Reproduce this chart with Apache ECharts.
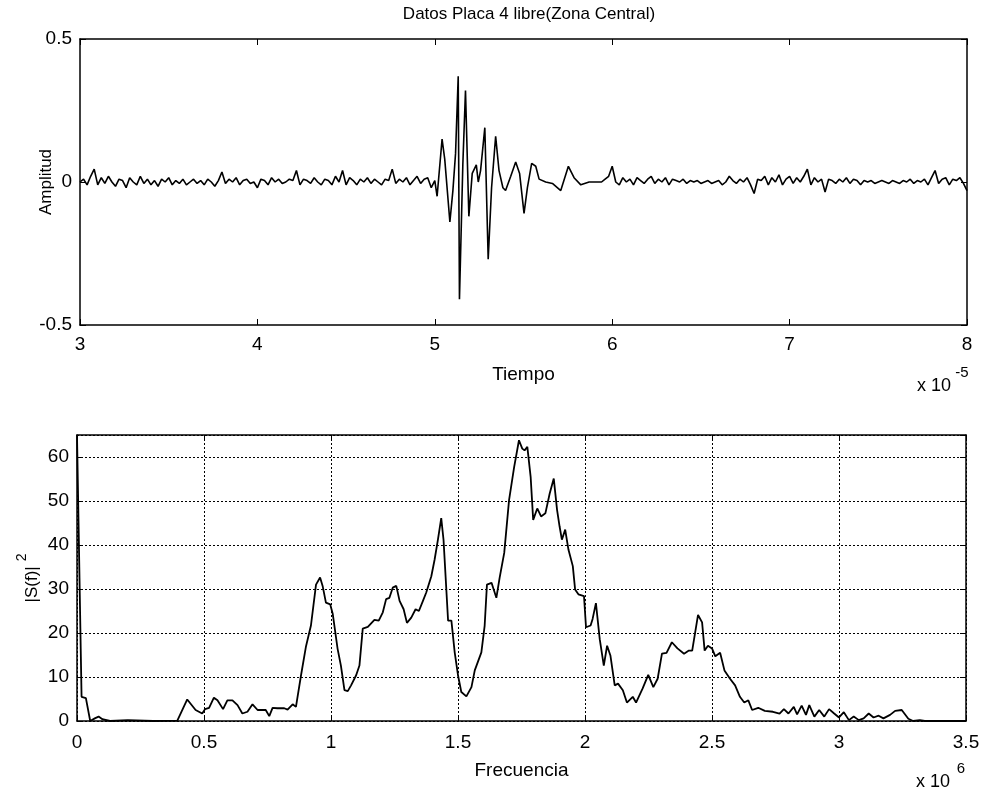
<!DOCTYPE html>
<html lang="es">
<head>
    <meta charset="UTF-8">
    <title>Datos Placa 4 libre</title>
    <style>
        html, body { margin: 0; padding: 0; background: #fff; }
        #main { width: 983px; height: 792px; }
    </style>
</head>
<body>
<div id="main"></div>
<script src="https://cdn.jsdelivr.net/npm/echarts@6/dist/echarts.min.js"></script>
<script>
    // Tiempo en unidades de 1e-5 s, frecuencia en unidades de 1e6 Hz
    var timeTicks = [3, 4, 5, 6, 7, 8];
    var freqTicks = [0, 0.5, 1, 1.5, 2, 2.5, 3, 3.5];

    // ruido antes del pulso: muestras cada 0.02 desde 3.00
    var noiseStartA = 3.0;
    var noiseStep = 0.02;
    var noiseA = [
        0.00, 0.01, -0.01, 0.02, 0.045, -0.01, 0.015, -0.005, 0.02, 0.00,
        -0.015, 0.01, 0.005, -0.02, 0.015, 0.00, -0.01, 0.02, -0.005, 0.01,
        -0.01, 0.005, -0.015, 0.01, 0.00, 0.015, -0.01, 0.005, -0.005, 0.01,
        -0.01, 0.00, 0.01, -0.005, 0.005, -0.01, 0.01, 0.00, -0.015, 0.005,
        0.035, -0.005, 0.01, 0.00, 0.015, -0.01, 0.005, 0.01, -0.005, 0.00,
        -0.02, 0.01, 0.005, -0.01, 0.015, 0.00, 0.01, -0.005, 0.00, 0.01,
        0.005, 0.04, -0.01, 0.01, 0.005, -0.005, 0.015, 0.00, -0.01, 0.01,
        0.005, -0.01, 0.02, 0.00, 0.04, -0.01, 0.015, 0.005, -0.01, 0.01,
        0.00, 0.015, -0.005, 0.01, 0.00, -0.01, 0.01, 0.005, 0.045, -0.005,
        0.01, 0.00, 0.015, -0.01, 0.005, 0.02, -0.005, 0.01, 0.015, -0.02,
        0.005
    ];

    // el pulso (Zona Central)
    var burstTime = [
        5.013, 5.041, 5.056, 5.085, 5.102, 5.117, 5.132, 5.139, 5.158, 5.173,
        5.192, 5.211, 5.234, 5.245, 5.258, 5.282, 5.301, 5.320, 5.343, 5.362,
        5.384, 5.399, 5.428, 5.456, 5.478, 5.503, 5.522, 5.546, 5.569, 5.588,
        5.625, 5.663, 5.710, 5.753, 5.785, 5.823, 5.870, 5.926
    ];
    var burstAmp = [
        -0.05, 0.15, 0.08, -0.14, -0.03, 0.10, 0.37, -0.41, 0.06, 0.32,
        -0.12, 0.03, 0.06, 0.00, 0.04, 0.19, -0.27, -0.02, 0.16, 0.04,
        -0.02, -0.03, 0.02, 0.07, 0.03, -0.11, -0.02, 0.065, 0.055, 0.01,
        0.00, -0.005, -0.03, 0.055, 0.015, -0.01, 0.00, 0.00
    ];

    // ruido despues del pulso: muestras cada 0.02 desde 5.94
    var noiseStartB = 5.94;
    var noiseB = [
        0.00, 0.01, 0.02, 0.055, 0.00, -0.01, 0.015, 0.00, 0.01, -0.01,
        0.015, 0.005, -0.005, 0.01, 0.02, -0.005, 0.01, 0.00, 0.015, -0.01,
        0.01, 0.005, 0.00, 0.01, -0.005, 0.005, 0.00, 0.005, -0.005, 0.00,
        0.005, -0.005, 0.00, 0.005, -0.01, 0.00, 0.02, 0.005, -0.005, 0.01,
        0.00, 0.015, -0.01, -0.04, 0.01, 0.005, 0.02, -0.01, 0.015, 0.00,
        0.025, -0.01, 0.01, 0.02, -0.005, 0.015, 0.00, 0.02, 0.045, -0.01,
        0.015, 0.00, 0.01, -0.035, 0.01, 0.005, -0.005, 0.01, 0.00, 0.015,
        -0.005, 0.01, 0.005, -0.01, 0.005, 0.00, 0.005, -0.005, 0.00, 0.005,
        0.00, -0.005, 0.005, 0.00, -0.005, 0.005, 0.00, 0.01, -0.005, 0.005,
        0.00, 0.01, -0.01, 0.015, 0.04, -0.005, 0.01, 0.015, -0.01, 0.01,
        0.005, 0.015, -0.005, -0.03
    ];

    // espectro |S(f)|^2
    var freq = [
        0, 0.018, 0.035, 0.052, 0.07, 0.085, 0.1, 0.13, 0.2, 0.3,
        0.395, 0.434, 0.467, 0.493, 0.504, 0.52, 0.539, 0.553, 0.575, 0.592,
        0.612, 0.632, 0.651, 0.671, 0.691, 0.711, 0.743, 0.757, 0.770, 0.789,
        0.816, 0.829, 0.849, 0.862, 0.882, 0.901, 0.921, 0.941, 0.957, 0.967,
        0.980, 0.997, 1.007, 1.026, 1.039, 1.053, 1.066, 1.079, 1.099, 1.112,
        1.125, 1.145, 1.171, 1.188, 1.204, 1.217, 1.230, 1.243, 1.257, 1.270,
        1.286, 1.299, 1.316, 1.333, 1.346, 1.362, 1.375, 1.395, 1.408, 1.421,
        1.434, 1.443, 1.461, 1.474, 1.487, 1.500, 1.513, 1.533, 1.553, 1.566,
        1.592, 1.605, 1.614, 1.632, 1.651, 1.664, 1.682, 1.701, 1.721, 1.740,
        1.753, 1.762, 1.773, 1.786, 1.796, 1.812, 1.827, 1.844, 1.861, 1.877,
        1.890, 1.900, 1.909, 1.922, 1.935, 1.952, 1.961, 1.974, 1.996, 2.004,
        2.022, 2.030, 2.043, 2.058, 2.074, 2.087, 2.100, 2.117, 2.130, 2.149,
        2.165, 2.188, 2.201, 2.227, 2.249, 2.269, 2.286, 2.303, 2.321, 2.342,
        2.364, 2.390, 2.409, 2.422, 2.445, 2.461, 2.471, 2.484, 2.500, 2.513,
        2.532, 2.549, 2.571, 2.591, 2.610, 2.627, 2.643, 2.658, 2.682, 2.708,
        2.740, 2.766, 2.783, 2.801, 2.822, 2.835, 2.853, 2.870, 2.883, 2.903,
        2.922, 2.942, 2.961, 2.981, 3.000, 3.019, 3.039, 3.058, 3.078, 3.097,
        3.117, 3.136, 3.156, 3.175, 3.201, 3.221, 3.247, 3.273, 3.292, 3.318,
        3.338, 3.5
    ];
    var power = [
        65, 5.5, 5.2, 0, 0.6, 1.0, 0.4, 0, 0.2, 0,
        0.1, 4.9, 2.5, 1.7, 2.7, 3.0, 5.3, 4.7, 2.7, 4.7,
        4.7, 3.6, 1.7, 2.1, 3.8, 2.5, 2.5, 1.1, 3.0, 2.9,
        2.9, 2.6, 3.8, 3.2, 10.4, 16.8, 21.7, 31.0, 32.6, 30.7,
        26.9, 26.5, 24.3, 16.4, 12.6, 7.0, 6.8, 8.1, 10.4, 12.6,
        21.0, 21.4, 23.0, 22.8, 24.7, 27.7, 28.0, 30.3, 30.7, 27.3,
        25.4, 22.3, 23.5, 25.4, 25.0, 27.3, 29.2, 32.9, 36.7, 41.2,
        46.1, 41.2, 22.8, 22.8, 15.6, 10.4, 6.6, 5.6, 7.7, 11.5,
        15.6, 21.7, 31.0, 31.4, 28.0, 32.6, 38.2, 50.2, 57.7, 63.8,
        61.9, 61.5, 62.3, 55.5, 45.7, 48.3, 46.5, 47.2, 51.7, 55.1,
        48.0, 44.2, 41.2, 43.5, 38.9, 35.2, 29.9, 28.8, 28.4, 21.3,
        21.7, 23.2, 26.8, 18.6, 12.6, 17.1, 14.9, 8.1, 8.5, 7.0,
        4.2, 5.5, 4.2, 7.4, 10.5, 7.7, 9.6, 15.3, 15.5, 17.9,
        16.5, 15.3, 16.0, 16.0, 24.1, 22.4, 16.0, 17.1, 16.5, 14.7,
        15.5, 11.5, 9.6, 8.1, 5.5, 4.2, 4.7, 2.5, 3.0, 2.3,
        2.1, 1.7, 2.7, 1.7, 3.2, 1.5, 3.5, 1.4, 3.6, 1.0,
        2.5, 1.0, 2.7, 1.7, 0.8, 2.0, 0.2, 1.0, 0.2, 0.6,
        1.7, 0.8, 1.2, 0.6, 1.4, 2.3, 2.5, 0.5, 0, 0.2,
        0, 0
    ];

    var FONT = 'Liberation Sans, Arial, Helvetica, sans-serif';

    var signal = [];
    for (var i = 0; i < noiseA.length; i++) {
        signal.push([+(noiseStartA + i * noiseStep).toFixed(3), noiseA[i]]);
    }
    for (var j = 0; j < burstTime.length; j++) {
        signal.push([burstTime[j], burstAmp[j]]);
    }
    for (var k = 0; k < noiseB.length; k++) {
        signal.push([+(noiseStartB + k * noiseStep).toFixed(3), noiseB[k]]);
    }

    var spectrum = [];
    for (var m = 0; m < freq.length; m++) {
        spectrum.push([freq[m], power[m]]);
    }

    var black = '#000';
    var tickLabel = {color: black, fontSize: 19, fontFamily: FONT};

    // eje de caja estilo MATLAB: linea negra, marcas hacia dentro
    function boxAxis(gridIndex, pos, min, max, interval) {
        return {
            gridIndex: gridIndex,
            type: 'value',
            position: pos,
            min: min,
            max: max,
            interval: interval,
            axisLine: {show: true, onZero: false, lineStyle: {color: black, width: 1.5}},
            axisTick: {show: true, inside: true, length: 6, lineStyle: {color: black, width: 1}},
            axisLabel: {show: false},
            splitLine: {show: false}
        };
    }

    var xTop = boxAxis(0, 'bottom', timeTicks[0], timeTicks[timeTicks.length - 1], 1);
    xTop.axisLabel = Object.assign({show: true, margin: 10}, tickLabel);
    xTop.name = 'Tiempo';
    xTop.nameLocation = 'middle';
    xTop.nameGap = 40;
    xTop.nameMoveOverlap = false;
    xTop.nameTextStyle = {color: black, fontSize: 19, fontFamily: FONT};

    var yTop = boxAxis(0, 'left', -0.5, 0.5, 0.5);
    yTop.axisLabel = Object.assign({show: true, margin: 8}, tickLabel);
    yTop.name = 'Amplitud';
    yTop.nameLocation = 'middle';
    yTop.nameGap = 25;
    yTop.nameMoveOverlap = false;
    yTop.nameTextStyle = {color: black, fontSize: 17, fontFamily: FONT};

    var dotted = {show: true, lineStyle: {color: black, width: 1, type: [2, 2]}};

    var xBot = boxAxis(1, 'bottom', freqTicks[0], freqTicks[freqTicks.length - 1], 0.5);
    xBot.axisLabel = Object.assign({show: true, margin: 12}, tickLabel);
    xBot.splitLine = dotted;
    xBot.name = 'Frecuencia';
    xBot.nameLocation = 'middle';
    xBot.nameGap = 40;
    xBot.nameMoveOverlap = false;
    xBot.nameTextStyle = {color: black, fontSize: 19, fontFamily: FONT};

    var yBot = boxAxis(1, 'left', 0, 65, 10);
    yBot.axisLabel = Object.assign({show: true, margin: 8, showMaxLabel: false}, tickLabel);
    yBot.splitLine = dotted;
    yBot.name = '{a||S(f)|}{s|2}';
    yBot.nameLocation = 'middle';
    yBot.nameGap = 36;
    yBot.nameMoveOverlap = false;
    yBot.nameTextStyle = {
        color: black, fontSize: 17, fontFamily: FONT,
        rich: {
            a: {fontSize: 17, fontFamily: FONT, color: black, lineHeight: 26, verticalAlign: 'bottom'},
            s: {fontSize: 14, fontFamily: FONT, color: black, lineHeight: 14, verticalAlign: 'top', padding: [0, 0, 0, 5]}
        }
    };

    var myChart = echarts.init(document.getElementById('main'));
    var option = {
        backgroundColor: '#fff',
        animation: false,
        title: {
            text: 'Datos Placa 4 libre(Zona Central)',
            left: 524,
            top: 1,
            textAlign: 'center',
            textStyle: {color: black, fontSize: 17, fontWeight: 'normal', fontFamily: FONT}
        },
        grid: [
            {left: 80, top: 39, width: 887, height: 286},
            {left: 77, top: 435, width: 889, height: 286}
        ],
        xAxis: [
            xTop,
            boxAxis(0, 'top', 3, 8, 1),
            xBot,
            boxAxis(1, 'top', 0, 3.5, 0.5)
        ],
        yAxis: [
            yTop,
            boxAxis(0, 'right', -0.5, 0.5, 0.5),
            yBot,
            boxAxis(1, 'right', 0, 65, 10)
        ],
        graphic: [
            {type: 'text', x: 934, y: 386, style: {text: 'x 10', fill: black, font: '18px ' + FONT, align: 'center', verticalAlign: 'middle'}},
            {type: 'text', x: 962, y: 373, style: {text: '-5', fill: black, font: '15px ' + FONT, align: 'center', verticalAlign: 'middle'}},
            {type: 'text', x: 933, y: 782, style: {text: 'x 10', fill: black, font: '18px ' + FONT, align: 'center', verticalAlign: 'middle'}},
            {type: 'text', x: 961, y: 769, style: {text: '6', fill: black, font: '15px ' + FONT, align: 'center', verticalAlign: 'middle'}}
        ],
        series: [
            {
                type: 'line',
                xAxisIndex: 0,
                yAxisIndex: 0,
                data: signal,
                showSymbol: false,
                clip: true,
                lineStyle: {color: black, width: 1.6}
            },
            {
                type: 'line',
                xAxisIndex: 2,
                yAxisIndex: 2,
                data: spectrum,
                showSymbol: false,
                clip: true,
                lineStyle: {color: black, width: 1.8}
            }
        ]
    };
    myChart.setOption(option);
</script>
</body>
</html>
